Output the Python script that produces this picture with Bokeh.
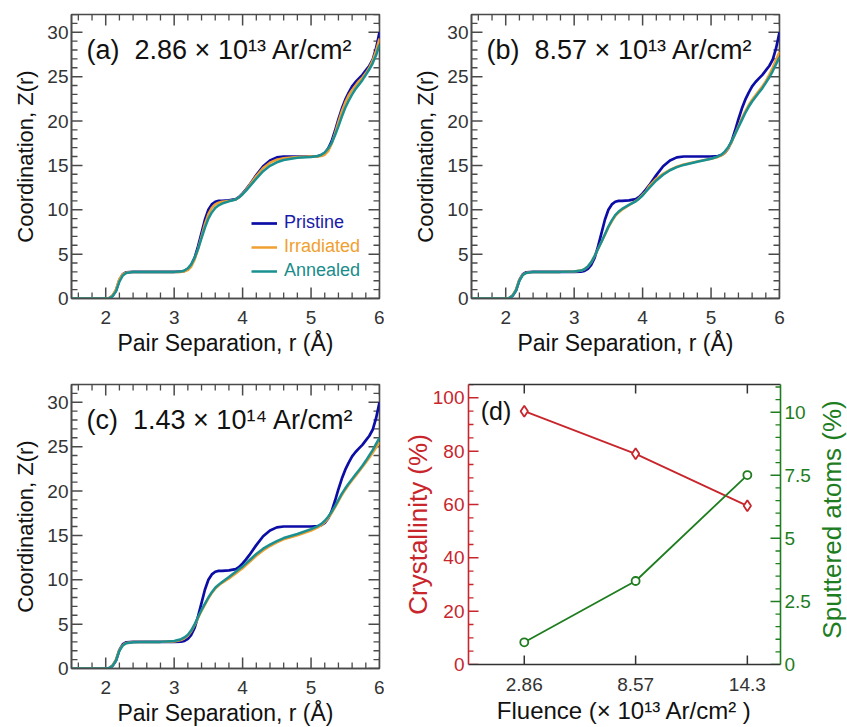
import math
from bokeh.plotting import figure
from bokeh.models import (Range1d, LinearAxis, SingleIntervalTicker, FixedTicker,
                          Label, Legend, LegendItem, NumeralTickFormatter)
from bokeh.layouts import column, row
from bokeh.embed import file_html
from bokeh.resources import INLINE

FONT = "Liberation Sans"

# ---------------- data ----------------
r = [1.5, 2.0, 2.05, 2.1, 2.15, 2.2, 2.25, 2.3, 2.4, 2.6, 2.8, 3.0, 3.1, 3.15, 3.2, 3.25,
     3.3, 3.35, 3.4, 3.45, 3.5, 3.55, 3.6, 3.65, 3.7, 3.8, 3.9, 3.95, 4.0, 4.05, 4.1, 4.2,
     4.3, 4.4, 4.5, 4.6, 4.8, 5.0, 5.1, 5.15, 5.2, 5.25, 5.3, 5.35, 5.4, 5.45, 5.5, 5.55,
     5.6, 5.65, 5.7, 5.75, 5.8, 5.85, 5.9, 5.95, 6.0]

pristine = [0, 0, 0.05, 0.3, 0.9, 2.1, 2.75, 2.95, 3.0, 3.0, 3.0, 3.0, 3.02, 3.1, 3.35, 3.8,
            4.6, 5.9, 7.4, 8.9, 10.0, 10.6, 10.9, 11.0, 11.0, 11.05, 11.2, 11.45, 11.85, 12.3, 12.8, 13.9,
            14.9, 15.55, 15.9, 16.0, 16.0, 16.0, 16.05, 16.15, 16.4, 16.9, 17.7, 18.9, 20.2, 21.4, 22.4, 23.2,
            23.9, 24.4, 24.8, 25.2, 25.7, 26.2, 26.9, 28.2, 30.0]

irr_a = [0, 0, 0.05, 0.35, 1.0, 2.2, 2.75, 2.92, 3.0, 3.0, 3.0, 3.0, 3.0, 3.05, 3.2, 3.6,
         4.4, 5.6, 7.0, 8.4, 9.5, 10.2, 10.6, 10.8, 10.9, 11.0, 11.15, 11.4, 11.8, 12.25, 12.75, 13.8,
         14.7, 15.3, 15.65, 15.8, 15.95, 16.0, 16.0, 16.05, 16.2, 16.6, 17.4, 18.6, 19.9, 21.1, 22.1, 22.9,
         23.5, 24.0, 24.5, 24.9, 25.4, 26.0, 26.8, 27.9, 29.3]
ann_a = [0, 0, 0.03, 0.25, 0.8, 1.9, 2.6, 2.88, 3.0, 3.0, 3.0, 3.0, 3.05, 3.15, 3.4, 3.85,
         4.6, 5.6, 6.8, 8.0, 9.0, 9.7, 10.2, 10.5, 10.7, 10.95, 11.15, 11.4, 11.75, 12.15, 12.6, 13.5,
         14.35, 14.95, 15.35, 15.6, 15.85, 15.95, 16.05, 16.2, 16.45, 16.9, 17.5, 18.4, 19.4, 20.5, 21.5, 22.3,
         23.0, 23.6, 24.1, 24.6, 25.2, 25.8, 26.5, 27.4, 28.6]

irr_b = [0, 0, 0.05, 0.35, 1.0, 2.1, 2.7, 2.9, 3.0, 3.0, 3.0, 3.05, 3.15, 3.3, 3.6, 4.1,
         4.8, 5.6, 6.4, 7.2, 8.0, 8.7, 9.3, 9.7, 10.0, 10.5, 11.0, 11.3, 11.7, 12.1, 12.7, 13.5,
         14.05, 14.5, 14.85, 15.1, 15.45, 15.75, 15.95, 16.1, 16.4, 16.9, 17.6, 18.5, 19.4, 20.3, 21.1, 21.8,
         22.4, 22.9, 23.4, 23.9, 24.5, 25.2, 26.0, 26.9, 27.8]
ann_b = [0, 0, 0.04, 0.3, 0.9, 2.0, 2.65, 2.88, 3.0, 3.0, 3.0, 3.05, 3.15, 3.3, 3.6, 4.1,
         4.8, 5.6, 6.4, 7.25, 8.1, 8.8, 9.4, 9.8, 10.1, 10.55, 10.95, 11.25, 11.6, 12.05, 12.5, 13.3,
         13.95, 14.45, 14.8, 15.05, 15.4, 15.75, 16.0, 16.2, 16.55, 17.05, 17.7, 18.5, 19.3, 20.1, 20.9, 21.6,
         22.2, 22.7, 23.2, 23.7, 24.3, 24.9, 25.6, 26.4, 27.2]

irr_c = [0, 0, 0.05, 0.35, 1.0, 2.1, 2.65, 2.88, 2.98, 3.0, 3.0, 3.05, 3.2, 3.4, 3.7, 4.2,
         4.9, 5.7, 6.5, 7.2, 7.9, 8.5, 9.0, 9.35, 9.65, 10.15, 10.7, 11.0, 11.3, 11.65, 12.0, 12.7,
         13.3, 13.8, 14.2, 14.55, 15.0, 15.55, 15.9, 16.15, 16.5, 16.95, 17.5, 18.15, 18.85, 19.55, 20.15, 20.7,
         21.2, 21.7, 22.2, 22.7, 23.2, 23.75, 24.3, 24.9, 25.5]
ann_c = [0, 0, 0.05, 0.3, 0.9, 2.0, 2.6, 2.85, 2.97, 3.0, 3.0, 3.1, 3.3, 3.5, 3.8, 4.3,
         5.0, 5.8, 6.6, 7.3, 8.0, 8.6, 9.1, 9.45, 9.75, 10.3, 10.9, 11.2, 11.5, 11.85, 12.2, 12.9,
         13.5, 13.95, 14.35, 14.7, 15.15, 15.7, 16.05, 16.3, 16.65, 17.1, 17.65, 18.3, 19.0, 19.7, 20.3, 20.85,
         21.35, 21.85, 22.35, 22.85, 23.4, 24.0, 24.6, 25.3, 26.0]

series_names = ["Pristine", "Irradiated", "Annealed"]
panel_titles = ["(a)\u00a0\u00a02.86 \u00d7 10\u00b9\u00b3 Ar/cm\u00b2",
                "(b)\u00a0\u00a08.57 \u00d7 10\u00b9\u00b3 Ar/cm\u00b2",
                "(c)\u00a0\u00a01.43 \u00d7 10\u00b9\u2074 Ar/cm\u00b2"]

fluence = [2.86, 8.57, 14.3]
fluence_labels = ["2.86", "8.57", "14.3"]
crystallinity = [95.0, 79.0, 59.5]
sputtered = [0.88, 3.31, 7.51]

# ---------------- styles ----------------
C_P = "#0c0ca6"
C_I = "#f0a030"
C_A = "#1a9090"
T_P = "#1a1aa8"
T_I = "#f0a030"
T_A = "#1a8c8c"
FRAME = "#4a4a4a"
RED = "#c8262c"
GREEN = "#1e7d1e"


def tick_values(lo, hi, step, skip=None):
    """Multiples of step inside [lo, hi], optionally dropping multiples of skip."""
    vals = []
    k0 = math.ceil(lo / step - 1e-9)
    k1 = math.floor(hi / step + 1e-9)
    for k in range(k0, k1 + 1):
        v = round(k * step, 6)
        if skip is not None and abs(v / skip - round(v / skip)) < 1e-6:
            continue
        vals.append(v)
    return vals


def draw_ticks(p, side, vals, length, color, width, y_range_name="default"):
    xr = p.x_range
    yr = p.y_range if y_range_name == "default" else p.extra_y_ranges[y_range_name]
    xs = p.frame_width / (xr.end - xr.start)
    ys = p.frame_height / (yr.end - yr.start)
    if side == "below":
        x0, x1 = vals, vals
        y0 = [yr.start] * len(vals)
        y1 = [yr.start + length / ys] * len(vals)
    elif side == "above":
        x0, x1 = vals, vals
        y0 = [yr.end] * len(vals)
        y1 = [yr.end - length / ys] * len(vals)
    elif side == "left":
        y0, y1 = vals, vals
        x0 = [xr.start] * len(vals)
        x1 = [xr.start + length / xs] * len(vals)
    else:
        y0, y1 = vals, vals
        x0 = [xr.end] * len(vals)
        x1 = [xr.end - length / xs] * len(vals)
    p.segment(x0=x0, y0=y0, x1=x1, y1=y1, line_color=color, line_width=width,
              y_range_name=y_range_name)


def style_axis(ax, line_color, label_color="#333333", size="19px", standoff=4):
    ax.axis_line_color = line_color
    ax.axis_line_width = 1.6
    ax.major_tick_line_color = None
    ax.minor_tick_line_color = None
    ax.major_tick_in = 0
    ax.major_tick_out = 0
    ax.minor_tick_in = 0
    ax.minor_tick_out = 0
    ax.major_label_text_font = FONT
    ax.major_label_text_font_size = size
    ax.major_label_text_color = label_color
    ax.major_label_standoff = standoff
    ax.axis_label_text_font = FONT
    ax.axis_label_text_font_style = "normal"


def z_panel(title, irr, ann, left, right, top, bottom, xstand, xlabstand, legend=False):
    p = figure(frame_width=308, frame_height=284, x_range=Range1d(1.5, 6), y_range=Range1d(0, 32),
               output_backend="svg", toolbar_location=None,
               min_border_left=left, min_border_right=right,
               min_border_top=top, min_border_bottom=bottom)
    p.outline_line_color = FRAME
    p.outline_line_width = 1.6
    p.grid.visible = False

    xa = p.xaxis[0]
    ya = p.yaxis[0]
    xa.ticker = SingleIntervalTicker(interval=1, num_minor_ticks=5)
    ya.ticker = SingleIntervalTicker(interval=5, num_minor_ticks=5)
    style_axis(xa, FRAME, standoff=xstand)
    style_axis(ya, FRAME, standoff=3)
    xa.axis_label = "Pair Separation, r (\u00c5)"
    ya.axis_label = "Coordination, Z(r)"
    xa.axis_label_text_font_size = "23px"
    ya.axis_label_text_font_size = "22px"
    xa.axis_label_standoff = xlabstand
    ya.axis_label_standoff = 6
    xa.axis_label_text_color = "#111111"
    ya.axis_label_text_color = "#111111"

    xmaj = tick_values(1.5, 6, 1)
    xmin = tick_values(1.5, 6, 0.2, skip=1)
    ymaj = tick_values(0, 32, 5)
    ymin = tick_values(0, 32, 1, skip=5)
    for side in ("below", "above"):
        draw_ticks(p, side, xmaj, 11, FRAME, 1.5)
        draw_ticks(p, side, xmin, 6, FRAME, 1.3)
    for side in ("left", "right"):
        draw_ticks(p, side, ymaj, 11, FRAME, 1.5)
        draw_ticks(p, side, ymin, 6, FRAME, 1.3)

    rp = p.line(r, pristine, line_color=C_P, line_width=2.7)
    ri = p.line(r, irr, line_color=C_I, line_width=2.5)
    ra = p.line(r, ann, line_color=C_A, line_width=2.5)

    p.add_layout(Label(x=1.72, y=28, text=title, text_font=FONT, text_font_size="27px",
                       text_color="#111111", text_baseline="alphabetic"))

    if legend:
        for rend, name, tcol, yloc in [(rp, series_names[0], T_P, 65),
                                       (ri, series_names[1], T_I, 41),
                                       (ra, series_names[2], T_A, 17)]:
            leg = Legend(items=[LegendItem(label=name, renderers=[rend])], location=(180, yloc),
                         label_text_font=FONT, label_text_font_size="18px", label_text_color=tcol,
                         glyph_width=26, glyph_height=20, label_height=20, label_standoff=7,
                         padding=0, margin=0, spacing=0, border_line_color=None,
                         background_fill_alpha=0)
            p.add_layout(leg)
    return p


pa = z_panel(panel_titles[0], irr_a, ann_a, 71, 5, 14, 64, 12, 3, legend=True)
pb = z_panel(panel_titles[1], irr_b, ann_b, 87, 60, 14, 64, 12, 3)
pc = z_panel(panel_titles[2], irr_c, ann_c, 71, 5, 22, 59, 12, 3)

# ---------------- panel (d) ----------------
pd = figure(frame_width=312, frame_height=280, x_range=Range1d(0, 16), y_range=Range1d(0, 105),
            output_backend="svg", toolbar_location=None,
            min_border_left=84, min_border_right=33, min_border_top=22, min_border_bottom=63)
pd.outline_line_color = None
pd.grid.visible = False
pd.extra_y_ranges = {"sp": Range1d(0, 11.1)}

dx = pd.xaxis[0]
dy = pd.yaxis[0]
dx.ticker = FixedTicker(ticks=fluence)
dx.major_label_overrides = dict(zip(fluence, fluence_labels))
style_axis(dx, "#333333", standoff=13)
dx.axis_label = "Fluence (\u00d7 10\u00b9\u00b3 Ar/cm\u00b2 )"
dx.axis_label_text_font_size = "24px"
dx.axis_label_standoff = 3
dx.axis_label_text_color = "#111111"

dy.ticker = SingleIntervalTicker(interval=20, num_minor_ticks=4)
style_axis(dy, RED, label_color=RED, standoff=4)
dy.axis_label = "Crystallinity (%)"
dy.axis_label_text_font_size = "26px"
dy.axis_label_text_color = RED
dy.axis_label_standoff = -3

dtop = LinearAxis(ticker=FixedTicker(ticks=[]))
style_axis(dtop, "#333333", standoff=0)
pd.add_layout(dtop, "above")

dr = LinearAxis(y_range_name="sp", ticker=SingleIntervalTicker(interval=2.5, num_minor_ticks=5),
                formatter=NumeralTickFormatter(format="0.[0]"))
style_axis(dr, GREEN, label_color=GREEN, standoff=4)
pd.add_layout(dr, "right")

draw_ticks(pd, "below", fluence, 9, "#333333", 1.5)
draw_ticks(pd, "above", fluence, 9, "#333333", 1.5)
draw_ticks(pd, "left", tick_values(0, 105, 20), 10, RED, 1.5)
draw_ticks(pd, "left", tick_values(0, 105, 5, skip=20), 5, RED, 1.3)
draw_ticks(pd, "right", tick_values(0, 11.1, 2.5), 10, GREEN, 1.5, y_range_name="sp")
draw_ticks(pd, "right", tick_values(0, 11.1, 0.5, skip=2.5), 5, GREEN, 1.3, y_range_name="sp")

pd.line(fluence, crystallinity, line_color=RED, line_width=1.8)
pd.scatter(fluence, crystallinity, marker="diamond", size=11, line_color=RED, line_width=1.8,
           fill_color="white")
pd.line(fluence, sputtered, line_color=GREEN, line_width=1.8, y_range_name="sp")
pd.scatter(fluence, sputtered, marker="circle", size=8, line_color=GREEN, line_width=1.8,
           fill_color="white", y_range_name="sp")

pd.add_layout(Label(x=0.63, y=95, text="(d)", text_font=FONT, text_font_size="25px",
                    text_color="#111111", text_baseline="alphabetic"))

# narrow strip carrying the right-hand axis title (reads bottom-to-top like the left one)
pt = figure(frame_width=34, frame_height=280, x_range=Range1d(0, 34), y_range=Range1d(0, 105),
            output_backend="svg", toolbar_location=None, x_axis_location=None,
            y_axis_location=None, min_border_left=0, min_border_right=0,
            min_border_top=22, min_border_bottom=63)
pt.outline_line_color = None
pt.grid.visible = False
pt.add_layout(Label(x=18, y=54.4, text="Sputtered atoms (%)", text_font=FONT,
                    text_font_size="26px", text_color=GREEN, angle=math.pi / 2,
                    text_align="center", text_baseline="alphabetic"))

layout = column(row(pa, pb), row(pc, pd, pt))
open("out.html", "w").write(file_html(layout, INLINE))
